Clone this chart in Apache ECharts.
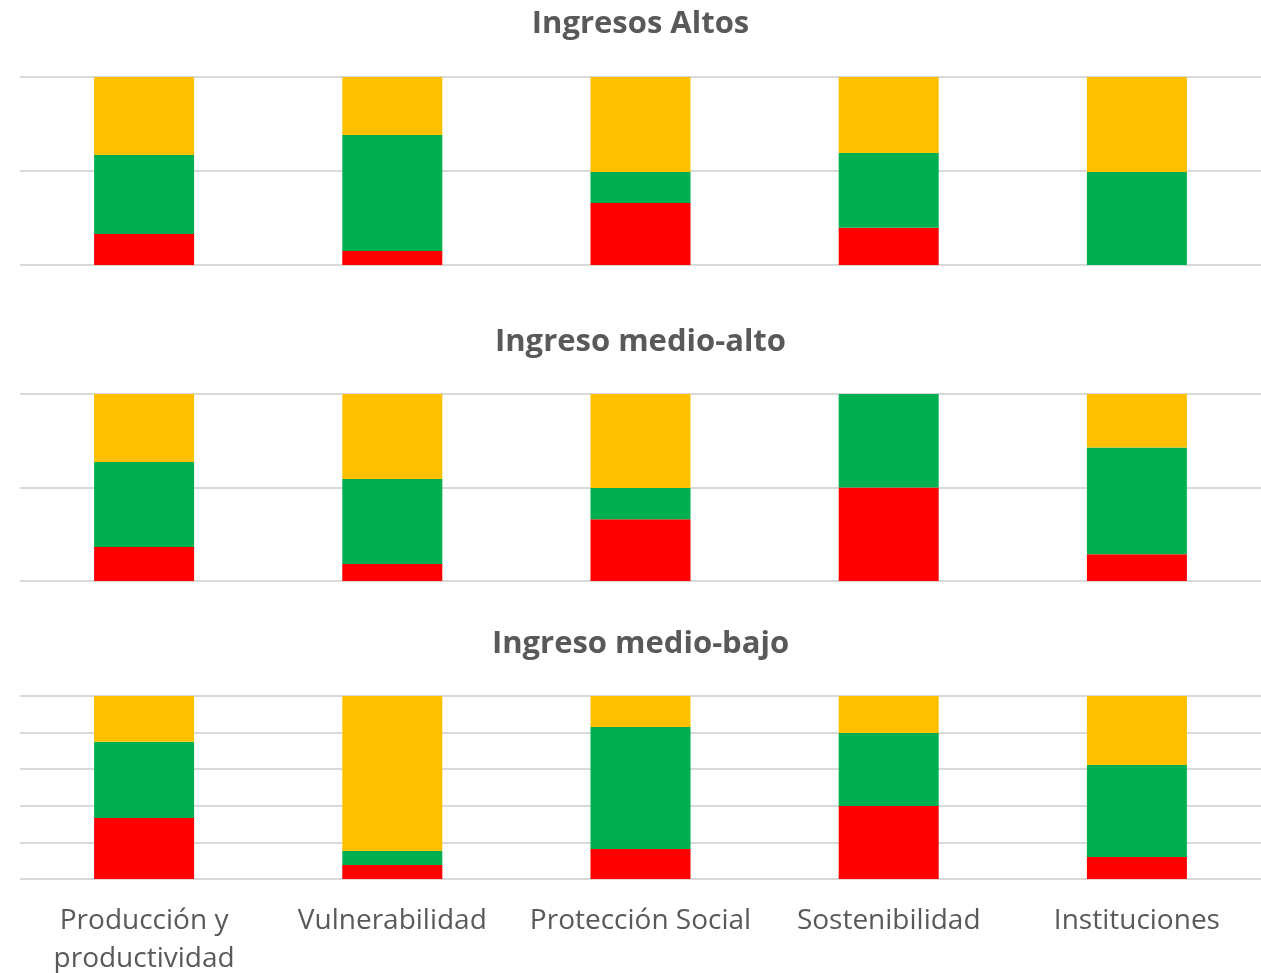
<!DOCTYPE html>
<html>
<head>
<meta charset="utf-8">
<script src="https://cdn.jsdelivr.net/npm/echarts@6/dist/echarts.min.js"></script>
<style>html,body{margin:0;padding:0;background:#fff}#c{width:1261px;height:973px}</style>
</head>
<body>
<div id="c"></div>
<script>
const categories = ['Producción y\nproductividad', 'Vulnerabilidad', 'Protección Social', 'Sostenibilidad', 'Instituciones'];
const panelTitles = ['Ingresos Altos', 'Ingreso medio-alto', 'Ingreso medio-bajo'];
// percentages per panel: red, green, yellow
const altosRed    = [16.5, 7.5, 33.0, 19.8, 0];
const altosGreen  = [42.0, 61.7, 16.5, 39.8, 49.5];
const altosYellow = [41.5, 30.8, 50.5, 40.4, 50.5];
const medAltoRed    = [18.2, 9.1, 33.0, 50.0, 14.3];
const medAltoGreen  = [45.4, 45.4, 16.7, 50.0, 57.1];
const medAltoYellow = [36.4, 45.5, 50.3, 0, 28.6];
const medBajoRed    = [33.3, 7.7, 16.4, 39.9, 12.0];
const medBajoGreen  = [41.7, 7.6, 66.7, 39.9, 50.3];
const medBajoYellow = [25.0, 84.7, 16.9, 20.2, 37.7];
const yIntervals = [50, 50, 20];

const colors = {red: '#FF0000', green: '#00B050', yellow: '#FFC000'};
const panels = [
  [altosRed, altosGreen, altosYellow],
  [medAltoRed, medAltoGreen, medAltoYellow],
  [medBajoRed, medBajoGreen, medBajoYellow]
];
const gridTops = [77, 394, 696];
const gridHeights = [188, 187, 183];
const titleTops = [8, 326, 628];
const font = '"Open Sans", "Liberation Sans", sans-serif';

const chart = echarts.init(document.getElementById('c'), null, {renderer: 'canvas'});
const option = {
  animation: false,
  backgroundColor: '#fff',
  title: panelTitles.map((t, i) => ({
    text: t, left: 640.5, top: titleTops[i], textAlign: 'center', padding: 0,
    textStyle: {fontFamily: font, fontSize: 31, fontWeight: 'bold', color: '#595959', lineHeight: 32}
  })),
  grid: gridTops.map((t, i) => ({left: 20, right: 0, top: t, height: gridHeights[i], containLabel: false, outerBoundsMode: 'none'})),
  xAxis: gridTops.map((t, i) => ({
    type: 'category', gridIndex: i, data: categories,
    axisLine: {show: false}, axisTick: {show: false},
    axisLabel: i === 2 ? {show: true, interval: 0, fontFamily: font, fontSize: 28, color: '#595959', lineHeight: 38, margin: 23} : {show: false}
  })),
  yAxis: gridTops.map((t, i) => ({
    type: 'value', gridIndex: i, min: 0, max: 100, interval: yIntervals[i],
    axisLabel: {show: false}, axisLine: {show: false}, axisTick: {show: false},
    splitLine: {show: true, lineStyle: {color: '#D9D9D9', width: 2}}
  })),
  series: []
};
panels.forEach((p, i) => {
  ['red', 'green', 'yellow'].forEach((c, j) => {
    option.series.push({
      type: 'bar', xAxisIndex: i, yAxisIndex: i, stack: 'p' + i,
      data: p[j], barWidth: 100, itemStyle: {color: colors[c]}, z: 3
    });
  });
});
chart.setOption(option);
</script>
</body>
</html>
